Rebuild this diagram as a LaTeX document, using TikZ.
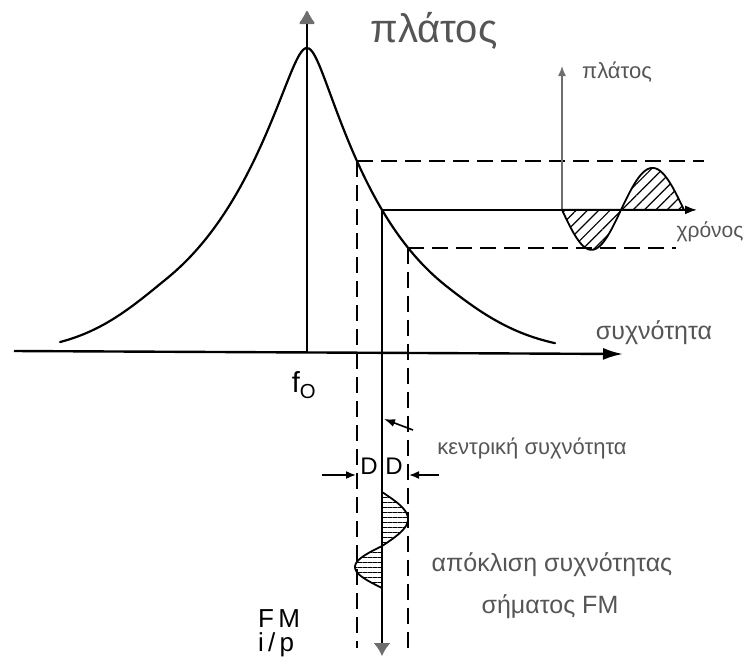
\documentclass[tikz,border=0pt]{standalone}
\usepackage{fontspec}
\setmainfont{Liberation Sans}
\usetikzlibrary{arrows.meta, patterns.meta}
\definecolor{txtgray}{HTML}{555555}
\definecolor{axgray}{HTML}{6E6E6E}

% response of the tuned circuit, y in page pixels
\pgfmathdeclarefunction{resp}{1}{%
  \begingroup
  \pgfmathparse{(#1-307)/100}\let\resu\pgfmathresult
  \pgfmathparse{352-304*exp(-(sqrt((\resu)*(\resu)+0.0169)-0.13)/((\resu<0)?0.9:0.83) - ((\resu<0)?0.71:0.6)*(max(abs(\resu)-1.4,0))^2)}%
  \pgfmathsmuggle\pgfmathresult
  \endgroup}

\begin{document}
\begin{tikzpicture}[x=1pt, y=-1pt,
    curve/.style={line width=2.2pt, line join=round, line cap=round},
    axis/.style={line width=2.4pt, -{Latex[length=20pt, width=12pt]}},
    dashline/.style={line width=2pt, dash pattern=on 16pt off 8pt},
    solidline/.style={line width=1.8pt},
    graxis/.style={line width=1.4pt, axgray, -{Latex[length=10pt, width=8pt]}},
    hatchdiag/.style={line width=1.8pt, pattern={Lines[angle=45, distance=8pt, line width=1.2pt]}},
    hatchflat/.style={line width=1.8pt, pattern={Lines[angle=0, distance=5pt, line width=1pt]}},
    glabel/.style={text=txtgray, inner sep=0pt},
    blabel/.style={text=black, inner sep=0pt}]
    \useasboundingbox (0,0) rectangle (746,662);

    % frequency axis and centre line
    \coordinate (ax0) at (14,351);
    \coordinate (ax1) at (623,354);
    \coordinate (f0) at (307,352);
    \coordinate (ftop) at (307,11);
    \draw [axis] (ax0) -- (ax1);
    \draw [curve, -{Latex[round, length=15pt, width=18pt, color=axgray]}] (f0) -- (ftop);

    % resonance curve
    \draw [curve] plot [domain=60:555, samples=160, smooth] (\x, {resp(\x)});

    % operating points on the slope
    \coordinate (hi) at (357,{resp(357)});
    \coordinate (mid) at (382,{resp(382)});
    \coordinate (lo) at (408,{resp(408)});
    \coordinate (hiE) at (704,{resp(357)});
    \coordinate (midE) at (697,{resp(382)});
    \coordinate (loE) at (676,{resp(408)});
    \coordinate (hiB) at (357,648);
    \coordinate (midB) at (382,656);
    \coordinate (loB) at (408,648);

    \draw [dashline] (hi) -- (hiE);
    \draw [dashline] (lo) -- (loE);
    \draw [dashline] (hi) -- (hiB);
    \draw [dashline] (lo) -- (loB);
    \draw [solidline, -{Latex[length=12pt, width=9pt]}] (mid) -- (midE);
    \draw [solidline, -{Latex[length=13pt, width=17pt, color=axgray]}] (mid) -- (midB);

    % output: amplitude against time
    \coordinate (t0) at (562,{resp(382)});
    \coordinate (ttop) at (562,66);
    \draw [graxis] (t0) -- (ttop);
    \draw [hatchdiag] plot [domain=562:621, samples=30] (\x, {resp(382)+40*sin(180*(\x-562)/59)}) -- cycle;
    \draw [hatchdiag] plot [domain=621:684, samples=30] (\x, {resp(382)-42*sin(180*(\x-621)/63)}) -- cycle;

    % input: frequency deviation
    \draw [hatchflat] plot [domain=492:546, samples=30] ({382+26*sin(180*(\x-492)/54)}, \x) -- cycle;
    \draw [hatchflat] plot [domain=546:588, samples=30] ({382-27*sin(180*(\x-546)/42)}, \x) -- cycle;

    % deviation markers
    \coordinate (dlA) at (322,475);
    \coordinate (dlB) at (356,475);
    \coordinate (drA) at (439,475);
    \coordinate (drB) at (409,475);
    \draw [line width=1.6pt, -{Latex[length=10pt, width=8pt]}] (dlA) -- (dlB);
    \draw [line width=1.6pt, -{Latex[length=10pt, width=8pt]}] (drA) -- (drB);
    \node [blabel, font=\fontsize{24}{24}\selectfont] (dl) at (369,466) {D};
    \node [blabel, font=\fontsize{24}{24}\selectfont] (dr) at (394,466) {D};

    % labels
    \node [glabel, font=\fontsize{40}{40}\selectfont] (ampl) at (434,31) {πλάτος};
    \node [glabel, font=\fontsize{25}{25}\selectfont] (freq) at (654,333) {συχνότητα};
    \node [glabel, font=\fontsize{22}{22}\selectfont] (ampls) at (617,72) {πλάτος};
    \node [glabel, font=\fontsize{21}{21}\selectfont] (time) at (710,232) {χρόνος};
    \node [glabel, font=\fontsize{22}{22}\selectfont] (cent) at (532,448) {κεντρική συχνότητα};
    \node [glabel, font=\fontsize{25}{25}\selectfont] (dev) at (552,565) {απόκλιση συχνότητας};
    \node [glabel, font=\fontsize{25}{25}\selectfont] (sig) at (550,607) {σήματος FM};
    \node [blabel, font=\fontsize{29}{29}\selectfont] (fo) at (304,385) {f\textsubscript{O}};
    \node [blabel, font=\fontsize{26}{24}\selectfont, align=left] (fm) at (279,633) {F\,M\\i\,/\,p};

    % pointer to the centre frequency
    \coordinate (cstart) at (413,430);
    \coordinate (cline) at (384,419);
    \draw [line width=1.6pt, -{Latex[length=11pt, width=8pt]}] (cstart) -- (cline);
\end{tikzpicture}
\end{document}
